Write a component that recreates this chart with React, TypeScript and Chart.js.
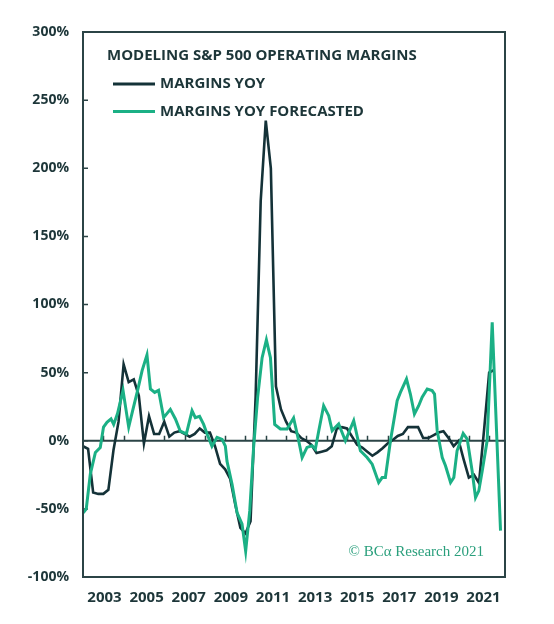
import React, { useEffect, useRef } from 'react';
import { Chart, registerables } from 'chart.js';

Chart.register(...registerables);

const TITLE = 'MODELING S&P 500 OPERATING MARGINS';
const SERIES_ACTUAL = 'MARGINS YOY';
const SERIES_FORECAST = 'MARGINS YOY FORECASTED';
const SOURCE = '\u00A9 BC\u03B1 Research 2021';

const yTicks = [-100, -50, 0, 50, 100, 150, 200, 250, 300];
const yearLabels = [2003, 2005, 2007, 2009, 2011, 2013, 2015, 2017, 2019, 2021];
const yearTicks = [2002, 2003, 2004, 2005, 2006, 2007, 2008, 2009, 2010, 2011, 2012, 2013, 2014, 2015, 2016, 2017, 2018, 2019, 2020, 2021];

// quarterly, decimal years
const actualDates = [
  2001.0, 2001.25, 2001.5, 2001.75,
  2002.0, 2002.25, 2002.5, 2002.75,
  2003.0, 2003.25, 2003.5, 2003.75,
  2004.0, 2004.25, 2004.5, 2004.75,
  2005.0, 2005.25, 2005.5, 2005.75,
  2006.0, 2006.25, 2006.5, 2006.75,
  2007.0, 2007.25, 2007.5, 2007.75,
  2008.0, 2008.25, 2008.5, 2008.75,
  2009.0, 2009.25, 2009.5, 2009.75,
  2010.0, 2010.25, 2010.5, 2010.75,
  2011.0, 2011.25, 2011.5, 2011.75,
  2012.0, 2012.25, 2012.5, 2012.75,
  2013.0, 2013.25, 2013.5, 2013.75,
  2014.0, 2014.25, 2014.5, 2014.75,
  2015.0, 2015.25, 2015.5, 2015.75,
  2016.0, 2016.25, 2016.5, 2016.75,
  2017.0, 2017.25, 2017.5, 2017.75,
  2018.0, 2018.25, 2018.5, 2018.75,
  2019.0, 2019.25, 2019.5, 2019.75,
  2020.0, 2020.25, 2020.5, 2020.75,
  2021.0, 2021.25,
];
const actualValues = [
  -4, -6, -38, -39,
  -39, -36, -7, 14,
  56, 43, 45, 33,
  -2, 18, 5, 5,
  14, 3, 6, 7,
  5, 3, 5, 9,
  6, 6, -4, -17,
  -21, -28, -47, -64,
  -68, -59, 32, 176,
  235, 200, 40, 23,
  14, 7, 6, 2,
  0, -3, -9, -8,
  -7, -4, 9, 10,
  9, 3, -3, -5,
  -8, -11, -8.5, -5.5,
  -2, 0.5, 3.5, 5,
  10, 10, 10, 2,
  2, 4, 6, 7,
  2, -4, 0, -14,
  -27, -25, -31, 8,
  50, 52,
];

const forecastDates = [
  2001.01, 2001.16, 2001.36, 2001.61, 2001.85, 2002.01, 2002.18, 2002.38, 2002.51, 2002.7,
  2002.97, 2003.25, 2003.46, 2003.69, 2003.91, 2004.15, 2004.32, 2004.53, 2004.72, 2004.97,
  2005.3, 2005.55, 2005.79, 2006.09, 2006.37, 2006.53, 2006.74, 2006.94, 2007.11, 2007.35,
  2007.6, 2007.85, 2008.01, 2008.09, 2008.34, 2008.59, 2008.83, 2009.01, 2009.21, 2009.4,
  2009.6, 2009.82, 2010.03, 2010.23, 2010.44, 2010.72, 2011.05, 2011.37, 2011.62, 2011.79,
  2012.03, 2012.28, 2012.44, 2012.61, 2012.85, 2013.1, 2013.27, 2013.59, 2013.92, 2014.33,
  2014.66, 2014.99, 2015.24, 2015.56, 2015.73, 2015.89, 2016.14, 2016.47, 2016.63, 2016.93,
  2017.12, 2017.32, 2017.53, 2017.7, 2017.95, 2018.19, 2018.31, 2018.44, 2018.69, 2018.85,
  2019.1, 2019.26, 2019.42, 2019.72, 2019.92, 2020.16, 2020.33, 2020.49, 2020.66, 2020.9,
  2021.15, 2021.56,
];
const forecastValues = [
  -53, -50, -24.5, -8.6, -5, 10, 13.5, 16, 12, 20,
  37, 10, 23, 37, 51.5, 63, 38, 35.5, 37, 17,
  23, 16, 7, 5, 22, 17, 18, 12, 5, -4,
  2.5, 1, -4, -15, -32, -53, -61, -81, -51.5, -5,
  32, 61, 74, 61, 12, 8.6, 8.6, 16.7, 0, -12.3,
  -4.9, -3.7, -6.1, 7.4, 25.7, 18.4, 7.4, 12.3, 0, 14.7,
  -7.4, -12.3, -17.2, -30.6, -27, -27, 0, 29.4, 35.5, 45.3,
  34.3, 19.6, 25.7, 31.9, 38, 36.8, 34.3, 7.4, -12.3, -18.4,
  -30.6, -27, -7.4, 5.4, 1.2, -22, -41.7, -36.8, -22, 0,
  87, -66,
];

const DARK = '#143238';
const GREEN = '#1bb085';
const AXIS = '#2b4446';
const TEXT = '#1d3639';
const SOURCE_COLOR = '#2a9f7c';
const SANS = '"Open Sans", Lato, sans-serif';

const decor = {
  id: 'decor',
  beforeDatasetsDraw(chart: any) {
    const { ctx, chartArea: a, scales } = chart;
    const x = scales.x;
    const y = scales.y;
    const y0 = y.getPixelForValue(0);
    ctx.save();
    ctx.strokeStyle = AXIS;
    ctx.lineWidth = 2;
    ctx.beginPath();
    ctx.moveTo(a.left, y0);
    ctx.lineTo(a.right, y0);
    ctx.stroke();
    ctx.lineWidth = 1.5;
    ctx.beginPath();
    yearTicks.forEach((yr) => {
      const px = Math.round(x.getPixelForValue(yr)) + 0.5;
      ctx.moveTo(px, y0);
      ctx.lineTo(px, y0 - 5);
    });
    yTicks.forEach((v) => {
      const py = y.getPixelForValue(v);
      ctx.moveTo(a.left, py);
      ctx.lineTo(a.left + 5, py);
    });
    ctx.stroke();
    ctx.restore();
  },
  afterDatasetsDraw(chart: any) {
    const { ctx, chartArea: a } = chart;
    ctx.save();
    ctx.strokeStyle = AXIS;
    ctx.lineWidth = 2;
    ctx.strokeRect(a.left, a.top, a.right - a.left, a.bottom - a.top);

    ctx.fillStyle = TEXT;
    ctx.textBaseline = 'middle';
    ctx.textAlign = 'left';
    ctx.font = `700 15px ${SANS}`;
    ctx.fillText(TITLE, a.left + 24, a.top + 24);

    chart.data.datasets.forEach((ds: any, i: number) => {
      const ly = a.top + 52 + i * 27.5;
      ctx.strokeStyle = ds.borderColor;
      ctx.lineWidth = 3;
      ctx.beginPath();
      ctx.moveTo(a.left + 30, ly);
      ctx.lineTo(a.left + 72, ly);
      ctx.stroke();
      ctx.fillStyle = TEXT;
      ctx.fillText(ds.label, a.left + 77, ly);
    });

    ctx.fillStyle = SOURCE_COLOR;
    ctx.font = `15px "Liberation Serif", "DejaVu Serif", serif`;
    ctx.textAlign = 'right';
    ctx.textBaseline = 'alphabetic';
    ctx.fillText(SOURCE, a.right - 21, a.bottom - 21);
    ctx.restore();
  },
};

export default function App() {
  const ref = useRef<HTMLCanvasElement | null>(null);
  useEffect(() => {
    if (!ref.current) return;
    const chart = new Chart(ref.current, {
      type: 'line',
      data: {
        datasets: [
          {
            label: SERIES_ACTUAL,
            data: actualDates.map((d, i) => ({ x: d, y: actualValues[i] })),
            borderColor: DARK,
            backgroundColor: DARK,
            borderWidth: 2.6,
            pointRadius: 0,
            tension: 0,
            order: 2,
            xAxisID: 'x',
            yAxisID: 'y',
          },
          {
            label: SERIES_FORECAST,
            data: forecastDates.map((d, i) => ({ x: d, y: forecastValues[i] })),
            borderColor: GREEN,
            backgroundColor: GREEN,
            borderWidth: 3,
            pointRadius: 0,
            tension: 0,
            order: 1,
            xAxisID: 'x',
            yAxisID: 'y',
          },
        ],
      },
      options: {
        animation: false,
        responsive: false,
        devicePixelRatio: 1,
        layout: { padding: { left: 0, right: 49, top: 32, bottom: 0 } },
        plugins: { legend: { display: false }, tooltip: { enabled: false } },
        scales: {
          x: {
            type: 'linear',
            display: false,
            min: 2001,
            max: 2021.78,
          },
          xYear: {
            type: 'linear',
            position: 'bottom',
            min: 2001.979,
            max: 2022.02,
            afterBuildTicks: (s: any) => {
              s.ticks = yearLabels.map((v) => ({ value: v }));
            },
            afterFit: (s: any) => {
              s.height = 47;
            },
            grid: { display: false, drawTicks: false },
            border: { display: false },
            ticks: {
              autoSkip: false,
              maxRotation: 0,
              padding: 12,
              color: TEXT,
              font: { family: SANS, size: 15, weight: 'bold' },
              callback: (v: any) => String(v),
            },
          },
          y: {
            type: 'linear',
            min: -100,
            max: 300,
            afterBuildTicks: (s: any) => {
              s.ticks = yTicks.map((v) => ({ value: v }));
            },
            afterFit: (s: any) => {
              s.width = 83;
            },
            grid: { display: false, drawTicks: false },
            border: { display: false },
            ticks: {
              padding: 14,
              color: TEXT,
              font: { family: SANS, size: 14, weight: 'bold' },
              callback: (v: any) => `${v}%`,
            },
          },
        },
      } as any,
      plugins: [decor],
    });
    return () => chart.destroy();
  }, []);
  return (
    <div style={{ position: 'fixed', left: 0, top: 0, width: 554, height: 624, background: '#fff' }}>
      <canvas ref={ref} width={554} height={624} />
    </div>
  );
}
